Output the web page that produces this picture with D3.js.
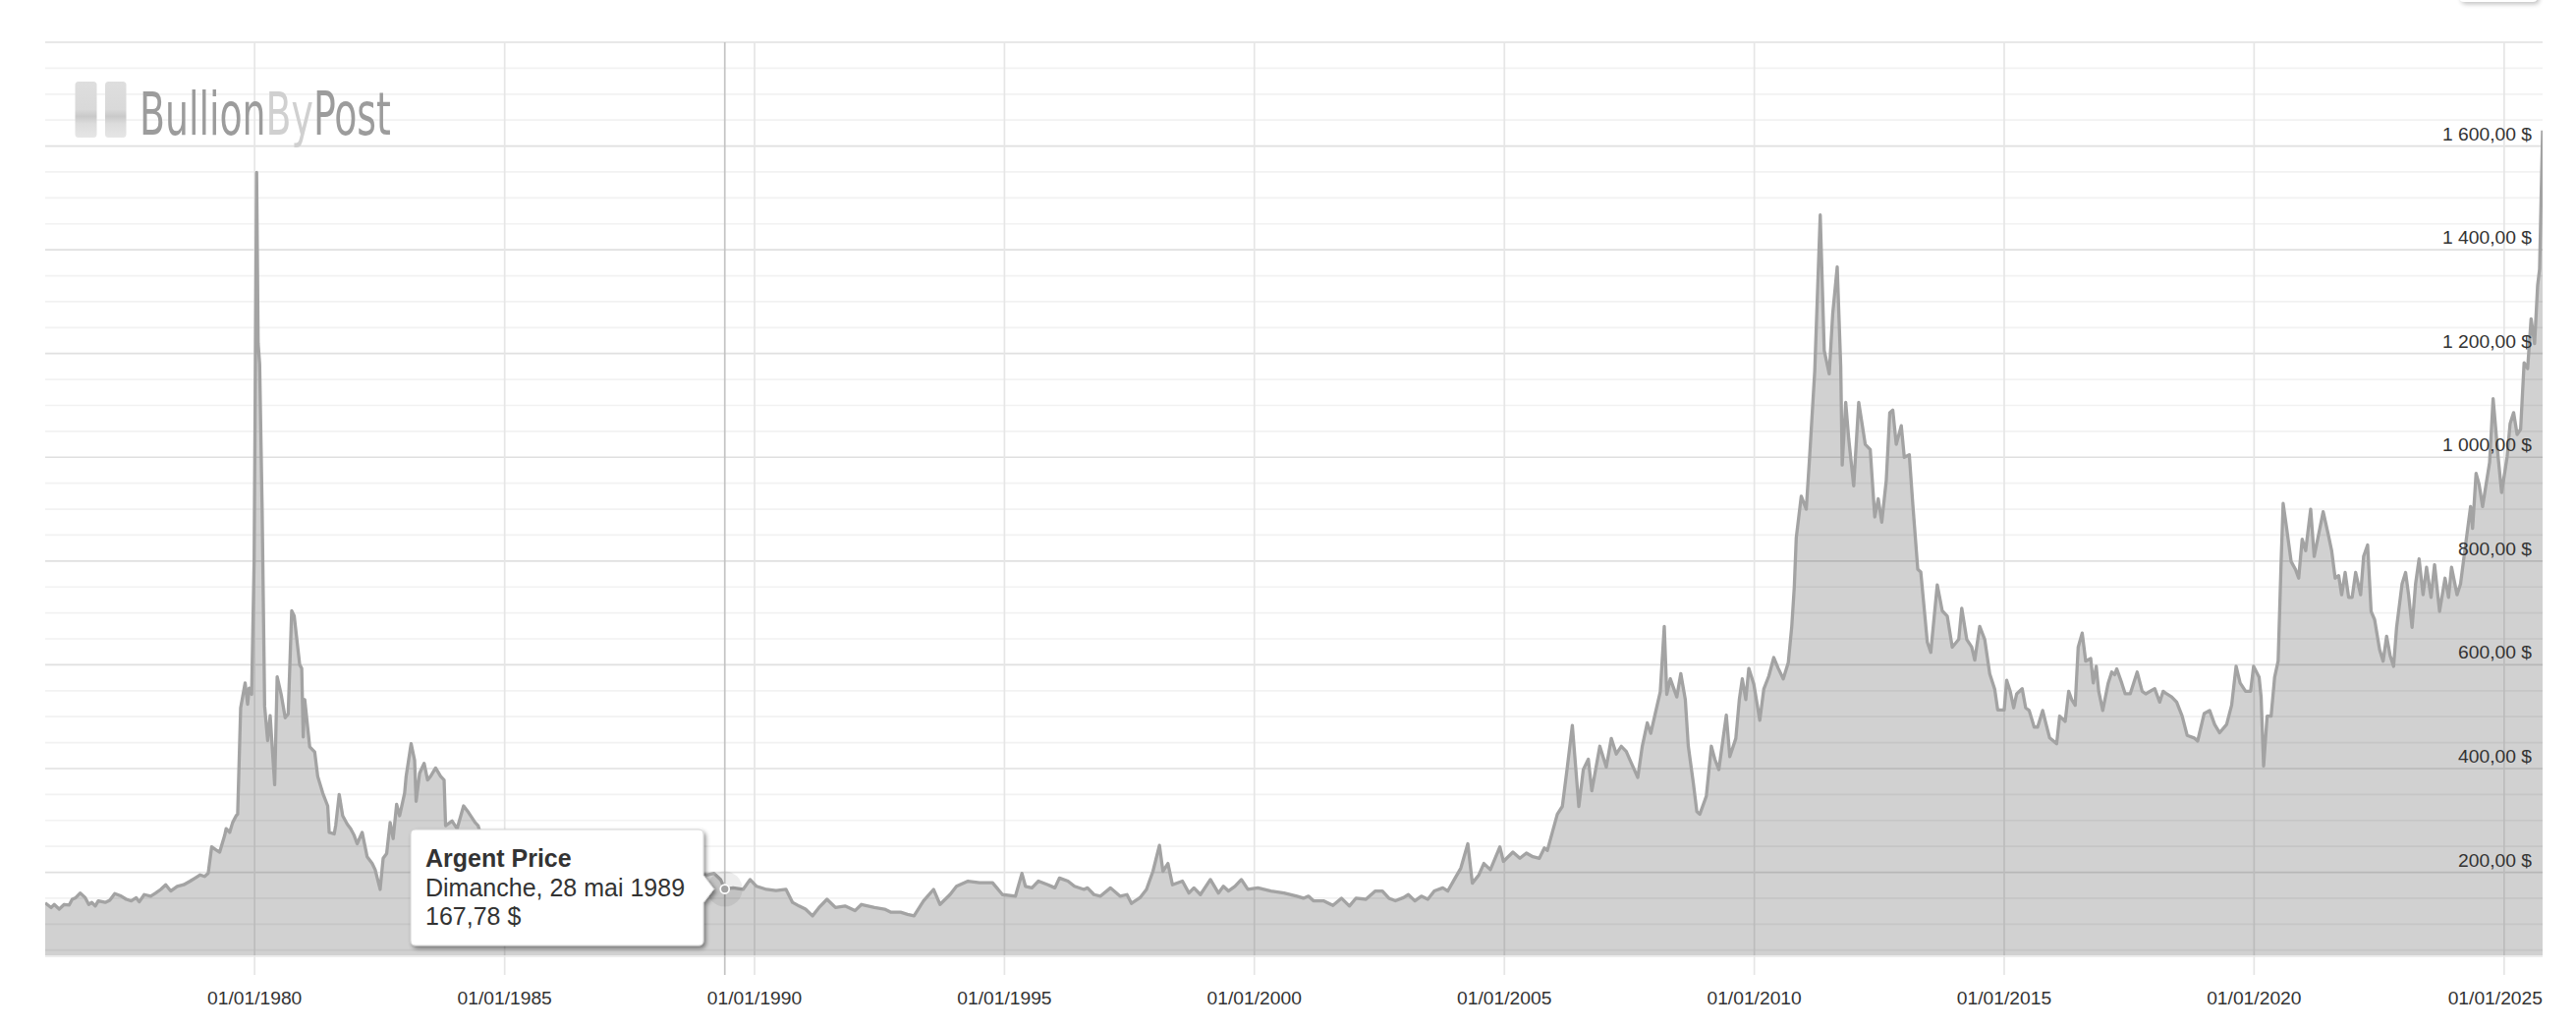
<!DOCTYPE html>
<html>
<head>
<meta charset="utf-8">
<script src="https://cdn.jsdelivr.net/npm/d3@7"></script>
<style>
  body { margin: 0; background: #fff; }
  svg { display: block; }
  text { font-family: "Liberation Sans", Arial, sans-serif; }
</style>
</head>
<body>
<svg id="chart" width="2622" height="1048"></svg>
<script>
const seriesName = "Argent Price"

// time as decimal years, price in $ (per kg)
const years = [
  1975.81,1975.93,1975.99,1976.09,1976.19,1976.29,1976.35,1976.42,1976.51,1976.61,1976.68,1976.74,1976.81,1976.87,
  1977.01,1977.10,1977.20,1977.33,1977.43,1977.53,1977.63,1977.69,1977.79,1977.92,1978.02,1978.12,1978.22,1978.32,
  1978.45,1978.58,1978.71,1978.81,1978.91,1979.00,
  1979.07,1979.14,1979.23,1979.30,1979.40,1979.43,1979.50,1979.56,1979.63,1979.66,1979.72,1979.81,1979.86,1979.89,
  1979.94,1979.99,1980.04,1980.07,1980.10,1980.15,1980.20,1980.26,1980.31,
  1980.40,1980.45,1980.53,1980.61,1980.67,1980.74,1980.79,1980.90,1980.94,1980.97,1981.00,1981.10,1981.20,1981.26,
  1981.36,1981.46,1981.49,1981.59,1981.62,1981.69,1981.76,1981.85,1981.92,1981.99,1982.05,1982.15,1982.25,1982.35,
  1982.41,1982.51,1982.57,1982.64,1982.71,1982.77,1982.84,1982.90,1983.00,1983.03,1983.13,1983.20,1983.23,1983.30,
  1983.39,1983.46,1983.52,1983.62,1983.72,1983.79,1983.82,1983.95,1984.05,1984.18,1984.28,1984.41,1984.47,
  1984.60,1984.80,1985.00,1985.25,1985.50,1985.75,1986.00,1986.25,1986.50,1986.75,1987.00,1987.20,1987.33,1987.50,
  1987.70,1987.90,1988.10,1988.35,1988.60,1988.80,1988.95,
  1989.06,1989.19,1989.32,1989.404,1989.57,1989.77,1989.91,1990.04,1990.24,1990.43,1990.63,1990.76,1990.89,1991.02,
  1991.16,1991.29,1991.45,1991.62,1991.81,1992.01,1992.14,1992.40,1992.60,1992.73,1992.92,1993.06,1993.19,1993.38,
  1993.58,1993.71,1993.91,1994.04,1994.27,1994.50,1994.76,1994.96,1995.22,1995.35,
  1995.42,1995.55,1995.68,1995.87,1996.01,1996.10,1996.27,1996.40,1996.59,1996.66,1996.79,1996.92,1997.12,1997.31,
  1997.45,1997.54,1997.71,1997.84,1997.97,1998.10,1998.17,1998.27,1998.36,1998.56,1998.69,1998.79,1998.92,1999.12,
  1999.28,1999.38,1999.48,1999.61,1999.74,1999.87,2000.07,2000.33,2000.59,2000.85,2000.98,2001.08,2001.18,2001.38,
  2001.57,2001.74,2001.90,2002.03,2002.23,2002.42,2002.56,2002.69,2002.82,2002.98,2003.08,2003.21,2003.34,2003.47,
  2003.60,2003.77,2003.87,2004.00,2004.13,2004.27,2004.36,2004.49,2004.59,2004.72,2004.91,2004.98,2005.17,
  2005.31,2005.44,2005.57,2005.70,2005.80,2005.86,2005.96,2006.06,2006.16,2006.26,2006.36,2006.49,2006.58,2006.68,
  2006.75,2006.91,2007.04,2007.14,2007.24,2007.34,2007.44,2007.53,2007.67,2007.76,2007.86,2007.93,2008.06,2008.12,
  2008.20,2008.25,2008.32,2008.45,2008.53,2008.62,2008.68,2008.78,2008.85,2008.91,2009.04,2009.14,2009.21,2009.29,
  2009.44,2009.51,2009.63,2009.70,2009.76,2009.83,2009.89,2009.99,2010.11,2010.19,2010.29,2010.39,2010.48,2010.58,
  2010.68,2010.75,2010.80,2010.84,2010.94,2011.04,2011.11,2011.21,2011.32,2011.40,2011.50,2011.57,2011.66,2011.73,
  2011.76,2011.83,2011.89,2011.99,2012.09,2012.22,2012.32,2012.41,2012.48,2012.55,2012.64,2012.71,2012.77,2012.84,
  2012.94,2013.00,2013.10,2013.17,2013.27,2013.33,2013.46,2013.53,2013.66,2013.76,2013.86,2013.96,2014.09,2014.15,
  2014.25,2014.35,2014.41,2014.51,2014.61,2014.71,2014.81,2014.87,2015.00,
  2015.05,2015.12,2015.19,2015.25,2015.36,2015.43,2015.50,2015.60,2015.67,2015.77,2015.84,2015.91,2016.05,2016.11,
  2016.22,2016.29,2016.35,2016.42,2016.48,2016.56,2016.63,2016.73,2016.78,2016.84,2016.89,2016.97,2017.08,2017.15,
  2017.21,2017.25,2017.35,2017.42,2017.52,2017.66,2017.76,2017.83,2018.01,2018.11,2018.18,2018.25,2018.35,2018.45,
  2018.56,2018.66,2018.80,2018.87,2019.00,2019.11,2019.21,2019.31,2019.45,2019.55,2019.64,2019.72,2019.83,2019.93,
  2019.99,2020.10,2020.14,2020.19,2020.26,2020.34,2020.41,2020.48,2020.54,2020.58,2020.65,2020.74,2020.83,2020.89,
  2020.96,2021.03,2021.13,2021.20,2021.27,2021.38,2021.48,2021.55,2021.62,2021.69,2021.75,2021.82,2021.89,2021.96,
  2022.03,2022.13,2022.19,2022.27,2022.34,2022.41,2022.51,2022.58,2022.65,2022.72,2022.79,2022.85,2022.96,2023.03,
  2023.09,2023.16,2023.23,2023.30,2023.38,2023.45,2023.54,2023.61,2023.71,2023.82,2023.89,2023.95,2024.06,2024.13,
  2024.23,2024.33,2024.37,2024.44,2024.50,2024.57,2024.64,2024.71,2024.78,2024.88,2024.95,2025.06,2025.12,2025.19,
  2025.26,2025.33,2025.40,2025.47,2025.54,2025.61,2025.67,2025.71,2025.77
]
const prices = [
  141,132,138,129,138,137,148,151,160,151,138,142,135,145,
  142,146,159,154,148,145,151,143,157,154,160,167,176,164,
  173,176,183,189,195,192,
  198,249,243,239,271,284,277,296,309,312,517,565,524,555,
  543,800,1549,1220,1180,900,520,454,502,
  369,577,543,498,505,704,694,600,593,461,533,442,432,385,
  353,328,277,274,290,350,309,293,284,271,255,277,230,217,
  205,167,227,236,296,265,331,309,353,385,448,416,337,391,
  410,378,385,401,385,378,290,299,284,328,315,296,290,
  245,225,200,205,198,200,190,175,165,182,175,200,265,240,
  245,215,205,210,218,200,196,
  195,198,186,167.78,170,167,186,173,167,165,167,142,135,129,
  116,132,148,132,135,126,138,132,129,123,123,119,116,145,
  167,138,157,173,183,180,180,157,154,198,
  173,170,183,176,170,189,183,173,167,170,157,154,170,154,
  157,140,151,167,202,252,202,217,176,183,160,170,157,186,
  160,173,164,173,186,167,170,164,160,154,150,154,145,145,
  136,150,135,150,148,164,164,150,145,151,157,145,154,148,
  164,170,164,186,208,255,179,195,217,205,249,221,239,
  227,237,230,227,247,242,277,312,327,403,483,327,398,418,
  357,443,403,458,428,443,433,413,383,443,488,468,523,548,
  674,543,573,538,583,533,443,372,317,312,347,443,418,398,
  503,423,458,533,573,533,593,563,493,553,578,614,593,573,
  604,674,749,845,925,900,1005,1166,1467,1206,1161,1277,1367,1176,
  985,1106,1036,945,1106,1025,1015,885,920,875,955,1086,1091,1025,
  1061,1000,1005,910,784,779,644,624,754,704,694,634,649,709,
  649,634,609,674,649,583,553,513,513,
  570,549,517,544,554,517,512,480,480,512,485,459,448,501,
  491,549,533,522,634,661,607,612,565,597,549,512,565,586,
  581,592,565,544,544,586,549,544,554,528,549,544,538,528,
  501,464,459,453,506,512,485,469,485,522,597,565,549,549,
  597,576,538,405,501,501,576,607,799,911,863,799,783,767,
  842,820,900,809,842,895,852,820,767,772,735,778,730,730,
  778,735,809,831,703,687,629,607,655,618,597,672,756,778,
  735,672,756,804,735,788,730,793,703,767,730,788,735,756,
  831,905,863,969,948,905,948,990,1113,1001,932,1001,1065,1086,
  1044,1054,1182,1171,1267,1219,1331,1363,1630
]

const xTickYears = [1980, 1985, 1990, 1995, 2000, 2005, 2010, 2015, 2020, 2025]
const yMajor = [200, 400, 600, 800, 1000, 1200, 1400, 1600, 1800]
const yLabels = [200, 400, 600, 800, 1000, 1200, 1400, 1600]
const yMinorStep = 50
const yDomain = [40, 1800]
const xDomain = [1975.81, 2025.77]
const hoverYear = 1989.404
const logoWords = ["Bullion", "By", "Post"]
const logoColors = ["#9c9c9c", "#d0d0d0", "#9c9c9c"]

const W = 2622, H = 1048
const plot = { left: 46, right: 2588, top: 43, bottom: 972 }

const toDate = t => {
  const yr = Math.floor(t)
  const a = Date.UTC(yr, 0, 1), b = Date.UTC(yr + 1, 0, 1)
  return new Date(a + (t - yr) * (b - a))
}

const fr = d3.formatLocale({ decimal: ",", thousands: " ", grouping: [3], currency: ["", " $"] })
const fmtPrice = fr.format("$,.2f")
const frTime = d3.timeFormatLocale({
  dateTime: "%A %e %B %Y", date: "%d/%m/%Y", time: "%H:%M:%S", periods: ["AM", "PM"],
  days: ["Dimanche", "Lundi", "Mardi", "Mercredi", "Jeudi", "Vendredi", "Samedi"],
  shortDays: ["dim.", "lun.", "mar.", "mer.", "jeu.", "ven.", "sam."],
  months: ["janvier", "février", "mars", "avril", "mai", "juin", "juillet", "août", "septembre", "octobre", "novembre", "décembre"],
  shortMonths: ["janv.", "févr.", "mars", "avr.", "mai", "juin", "juil.", "août", "sept.", "oct.", "nov.", "déc."]
})
const fmtTick = frTime.utcFormat("%d/%m/%Y")
const fmtLong = frTime.utcFormat("%A, %-d %B %Y")

const data = years.map((t, i) => ({ date: toDate(t), price: prices[i] }))

const x = d3.scaleUtc().domain(xDomain.map(toDate)).range([plot.left, plot.right])
const y = d3.scaleLinear().domain(yDomain).range([plot.bottom, plot.top])

const svg = d3.select("#chart")
const defs = svg.append("defs")

defs.append("clipPath").attr("id", "plotClip")
  .append("rect")
  .attr("x", plot.left).attr("y", plot.top)
  .attr("width", plot.right - plot.left).attr("height", plot.bottom - plot.top)

const shadow = defs.append("filter").attr("id", "shadow")
  .attr("x", "-10%").attr("y", "-10%").attr("width", "130%").attr("height", "140%")
shadow.append("feDropShadow")
  .attr("dx", 2).attr("dy", 2.5).attr("stdDeviation", 2.2)
  .attr("flood-color", "#000").attr("flood-opacity", 0.45)

const barGrad = defs.append("linearGradient").attr("id", "barGrad")
  .attr("x1", 0).attr("y1", 0).attr("x2", 0).attr("y2", 1)
barGrad.append("stop").attr("offset", "0%").attr("stop-color", "#dedede")
barGrad.append("stop").attr("offset", "50%").attr("stop-color", "#d9d9d9")
barGrad.append("stop").attr("offset", "62%").attr("stop-color", "#c9c9c9")
barGrad.append("stop").attr("offset", "75%").attr("stop-color", "#dcdcdc")
barGrad.append("stop").attr("offset", "100%").attr("stop-color", "#e6e6e6")

// button peeking in from the top right
svg.append("rect")
  .attr("x", 2503).attr("y", -40).attr("width", 80).attr("height", 42).attr("rx", 5)
  .attr("fill", "#fff").attr("filter", "url(#shadow)").attr("opacity", 0.5)

// horizontal grid
const minorVals = d3.range(yMinorStep, yDomain[1], yMinorStep).filter(v => !yMajor.includes(v))
svg.append("g").selectAll("line").data(minorVals).join("line")
  .attr("x1", plot.left).attr("x2", plot.right)
  .attr("y1", d => y(d)).attr("y2", d => y(d))
  .attr("stroke", "#f2f2f2").attr("stroke-width", 1.7)
svg.append("g").selectAll("line").data(yMajor).join("line")
  .attr("x1", plot.left).attr("x2", plot.right)
  .attr("y1", d => y(d)).attr("y2", d => y(d))
  .attr("stroke", "#e0e0e0").attr("stroke-width", 1.7)

// bottom axis line
svg.append("line")
  .attr("x1", plot.left).attr("x2", plot.right)
  .attr("y1", plot.bottom + 1).attr("y2", plot.bottom + 1)
  .attr("stroke", "#ececec").attr("stroke-width", 2)

// vertical grid with tick extension
const xTicks = xTickYears.map(yr => new Date(Date.UTC(yr, 0, 1)))
svg.append("g").selectAll("line").data(xTicks).join("line")
  .attr("x1", d => x(d)).attr("x2", d => x(d))
  .attr("y1", plot.top).attr("y2", plot.bottom + 20)
  .attr("stroke", "#e6e6e6").attr("stroke-width", 1.7)

// crosshair on the hovered point
const hoverDate = toDate(hoverYear)
const hi = d3.leastIndex(data, d => Math.abs(d.date - hoverDate))
const hp = data[hi]
svg.append("line")
  .attr("x1", x(hp.date)).attr("x2", x(hp.date))
  .attr("y1", plot.top).attr("y2", plot.bottom + 20)
  .attr("stroke", "#c4c4c4").attr("stroke-width", 1.7)

// series
const g = svg.append("g").attr("clip-path", "url(#plotClip)")
g.append("path").datum(data)
  .attr("d", d3.area().x(d => x(d.date)).y0(plot.bottom).y1(d => y(d.price)))
  .attr("fill", "rgba(0,0,0,0.18)")
g.append("path").datum(data)
  .attr("d", d3.line().x(d => x(d.date)).y(d => y(d.price)))
  .attr("fill", "none").attr("stroke", "#a3a3a3").attr("stroke-width", 3.3)
  .attr("stroke-linejoin", "round")

// y labels (right, above the lines)
svg.append("g").selectAll("text").data(yLabels).join("text")
  .attr("x", 2577).attr("y", d => y(d) - 6)
  .attr("text-anchor", "end").attr("font-size", 19.25).attr("fill", "#333")
  .text(d => fmtPrice(d))

// x labels
svg.append("g").selectAll("text").data(xTicks).join("text")
  .attr("x", d => x(d)).attr("y", 1022)
  .attr("text-anchor", "middle").attr("font-size", 19.25).attr("fill", "#333")
  .text(d => fmtTick(d))
  .each(function(d) {
    const w = this.getComputedTextLength()
    if (x(d) + w / 2 > plot.right) d3.select(this).attr("text-anchor", "end").attr("x", plot.right)
  })

// logo
const logo = svg.append("g")
logo.append("rect").attr("x", 76.5).attr("y", 83).attr("width", 22).attr("height", 57).attr("rx", 3.5)
  .attr("fill", "url(#barGrad)")
logo.append("rect").attr("x", 107).attr("y", 83).attr("width", 21.5).attr("height", 57).attr("rx", 3.5)
  .attr("fill", "url(#barGrad)")
const logoText = logo.append("text")
  .attr("x", 0).attr("y", 0)
  .attr("font-size", 61)
  .style("font-family", '"Liberation Sans Narrow", "DejaVu Sans Condensed", "Liberation Sans", sans-serif')
logoText.selectAll("tspan").data(logoWords).join("tspan")
  .attr("fill", (d, i) => logoColors[i])
  .text(d => d)
const logoLen = logoText.node().getComputedTextLength()
logoText.attr("transform", `translate(142,137) scale(${256 / logoLen},1)`)

// hover marker
svg.append("circle").attr("cx", x(hp.date)).attr("cy", y(hp.price)).attr("r", 18)
  .attr("fill", "rgba(0,0,0,0.07)")
svg.append("circle").attr("cx", x(hp.date)).attr("cy", y(hp.price)).attr("r", 4.5)
  .attr("fill", "#a3a3a3").attr("stroke", "#fff").attr("stroke-width", 1.7)

// tooltip
const tip = { l: 418, t: 844, r: 716, b: 962, rad: 5 }
const ay = y(hp.price)
const tipPath = `M${tip.l + tip.rad},${tip.t} H${tip.r - tip.rad} Q${tip.r},${tip.t} ${tip.r},${tip.t + tip.rad}
  V${ay - 14} L${x(hp.date) - 11},${ay} L${tip.r},${ay + 14}
  V${tip.b - tip.rad} Q${tip.r},${tip.b} ${tip.r - tip.rad},${tip.b}
  H${tip.l + tip.rad} Q${tip.l},${tip.b} ${tip.l},${tip.b - tip.rad}
  V${tip.t + tip.rad} Q${tip.l},${tip.t} ${tip.l + tip.rad},${tip.t} Z`
svg.append("path").attr("d", tipPath)
  .attr("fill", "#fff").attr("stroke", "#d4d4d4").attr("stroke-width", 1)
  .attr("filter", "url(#shadow)")
const tipText = svg.append("text").attr("font-size", 25).attr("fill", "#333")
tipText.append("tspan").attr("x", 433).attr("y", 882).attr("font-weight", "bold").text(seriesName)
tipText.append("tspan").attr("x", 433).attr("y", 912).text(fmtLong(hp.date))
tipText.append("tspan").attr("x", 433).attr("y", 941).text(fmtPrice(hp.price))
</script>
</body>
</html>
